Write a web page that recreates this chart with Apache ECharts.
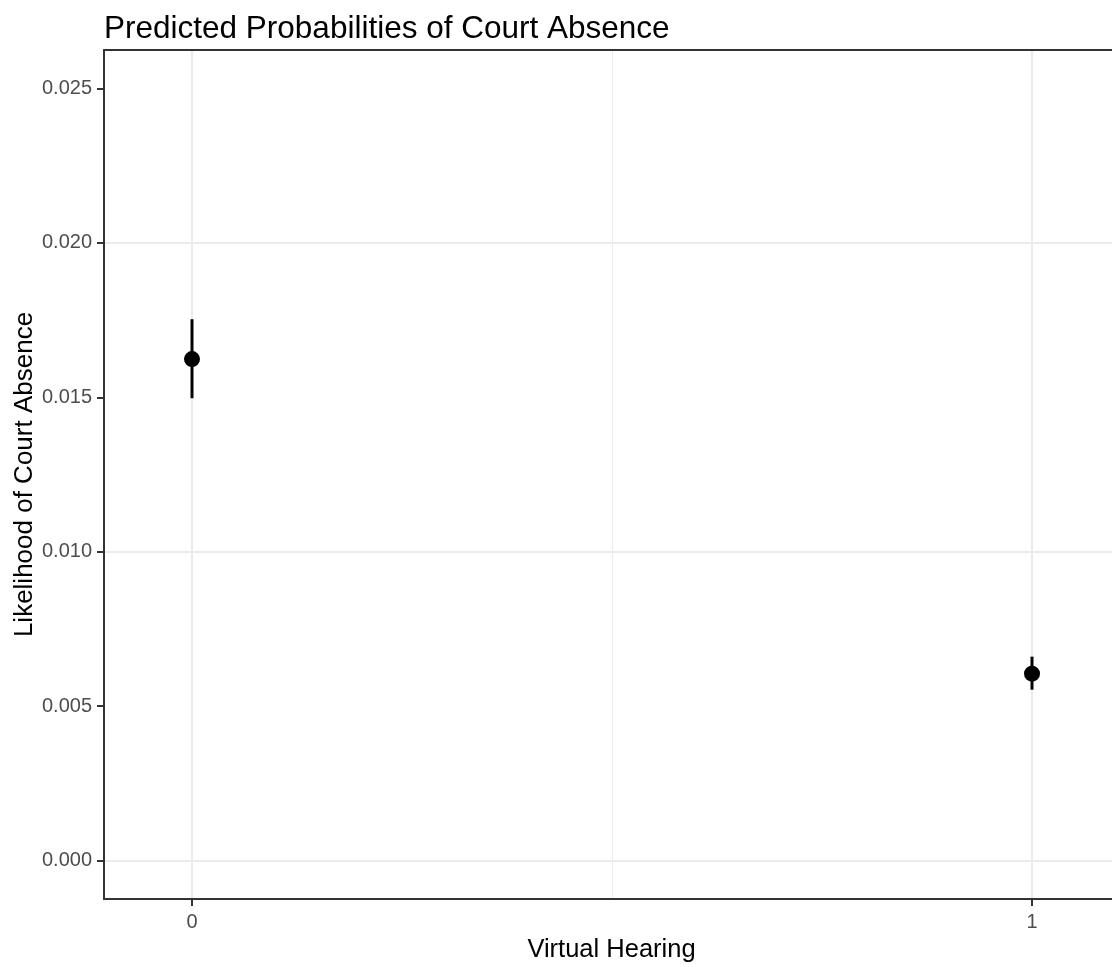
<!DOCTYPE html>
<html>
<head>
<meta charset="utf-8">
<script src="https://cdn.jsdelivr.net/npm/echarts@6/dist/echarts.min.js"></script>
<style>html,body{margin:0;padding:0;background:#fff;}#c{width:1112px;height:967px;}</style>
</head>
<body>
<div id="c"></div>
<script>
var categories = [0, 1];
var estimates = [0.01624, 0.00605];
var lowers = [0.01497, 0.00553];
var uppers = [0.01753, 0.00660];
var yTicks = [0, 0.005, 0.010, 0.015, 0.020, 0.025];
var yMinor = [0.0025, 0.0075, 0.0125, 0.0175, 0.0225];
var xTicks = [0, 1];
var xMinor = [0.5];

var chart = echarts.init(document.getElementById('c'));
var font = '"Liberation Sans", Arial, Helvetica, sans-serif';

var gridLines = [];
yTicks.forEach(function (v) { gridLines.push({ yAxis: v, lineStyle: { color: '#EBEBEB', width: 2, type: 'solid' } }); });
yMinor.forEach(function (v) { gridLines.push({ yAxis: v, lineStyle: { color: '#EBEBEB', width: 1, type: 'solid' } }); });
xTicks.forEach(function (v) { gridLines.push({ xAxis: v, lineStyle: { color: '#EBEBEB', width: 2, type: 'solid' } }); });
xMinor.forEach(function (v) { gridLines.push({ xAxis: v, lineStyle: { color: '#EBEBEB', width: 1, type: 'solid' } }); });

var points = categories.map(function (c, i) { return [c, estimates[i]]; });
var bars = categories.map(function (c, i) { return [c, lowers[i], uppers[i]]; });

var axisLineStyle = { color: '#333333', width: 2 };

chart.setOption({
  animation: false,
  backgroundColor: '#ffffff',
  title: {
    text: 'Predicted Probabilities of Court Absence',
    left: 104, top: 13, padding: 0,
    textStyle: { fontFamily: font, fontSize: 31.5, fontWeight: 'normal', color: '#000000' }
  },
  grid: { left: 104, right: 0, top: 50, bottom: 68, show: false, containLabel: false, outerBoundsMode: 'none' },
  xAxis: [{
    type: 'value', min: -0.10476, max: 1.09524, position: 'bottom',
    name: 'Virtual Hearing', nameLocation: 'middle', nameGap: 38, nameMoveOverlap: false,
    nameTextStyle: { fontFamily: font, fontSize: 25.5, color: '#000000', padding: [0, 0, 0, 7] },
    axisLine: { show: true, onZero: false, lineStyle: axisLineStyle },
    axisTick: { show: true, length: 7, customValues: xTicks, lineStyle: axisLineStyle },
    axisLabel: { customValues: xTicks, margin: 13, fontFamily: font, fontSize: 20, color: '#4D4D4D',
      formatter: function (v) { return String(Math.round(v)); } },
    splitLine: { show: false }
  }, {
    type: 'value', min: -0.10476, max: 1.09524, position: 'top',
    axisLine: { show: true, onZero: false, lineStyle: axisLineStyle },
    axisTick: { show: false }, axisLabel: { show: false }, splitLine: { show: false }
  }],
  yAxis: {
    type: 'value', min: -0.00125, max: 0.02625,
    name: 'Likelihood of Court Absence', nameLocation: 'middle', nameGap: 66, nameRotate: 90, nameMoveOverlap: false,
    nameTextStyle: { fontFamily: font, fontSize: 26, color: '#000000' },
    axisLine: { show: true, onZero: false, lineStyle: axisLineStyle },
    axisTick: { show: true, length: 7, customValues: yTicks, lineStyle: axisLineStyle },
    axisLabel: { customValues: yTicks, margin: 12, fontFamily: font, fontSize: 20, color: '#4D4D4D',
      formatter: function (v) { return v.toFixed(3); } },
    splitLine: { show: false }
  },
  series: [
    {
      type: 'line', data: [], z: 0, silent: true,
      markLine: { z: 0, silent: true, symbol: 'none', label: { show: false }, animation: false, data: gridLines }
    },
    {
      type: 'custom', z: 3, data: bars, silent: true,
      renderItem: function (params, api) {
        var p1 = api.coord([api.value(0), api.value(1)]);
        var p2 = api.coord([api.value(0), api.value(2)]);
        return { type: 'rect', shape: { x: p1[0] - 1.5, y: p2[1], width: 3, height: p1[1] - p2[1] },
          style: { fill: '#000000' } };
      }
    },
    {
      type: 'scatter', z: 4, data: points, symbol: 'circle', symbolSize: 16,
      itemStyle: { color: '#000000', opacity: 1 }
    }
  ]
});
</script>
</body>
</html>
